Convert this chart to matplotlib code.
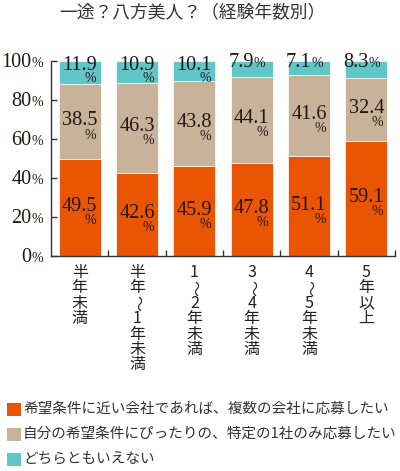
import matplotlib.pyplot as plt
from matplotlib.patches import Rectangle
import numpy as np

plt.rcParams['font.family'] = ['Noto Sans CJK JP', 'DejaVu Sans']

# --- datos ---
titulo = "一途？八方美人？（経験年数別）"
categories = ["半年未満", "半年〜1年未満", "1〜2年未満", "3〜4年未満", "4〜5年未満", "5年以上"]
series_names = [
    "希望条件に近い会社であれば、複数の会社に応募したい",
    "自分の希望条件にぴったりの、特定の1社のみ応募したい",
    "どちらともいえない",
]
multi = [49.5, 42.6, 45.9, 47.8, 51.1, 59.1]
single = [38.5, 46.3, 43.8, 44.1, 41.6, 32.4]
neither = [11.9, 10.9, 10.1, 7.9, 7.1, 8.3]
y_ticks = [0, 20, 40, 60, 80, 100]

colors = ["#EA5504", "#C8B29A", "#60C6C8"]
serif = "Liberation Serif"
txt_color = "#231815"
W, H = 400, 471

fig = plt.figure(figsize=(W / 100, H / 100), dpi=100)
ax = fig.add_axes([51 / W, 1 - 256 / H, 344 / W, 195 / H])

x = np.arange(len(categories))
series = [multi, single, neither]
bottom = np.zeros(len(categories))
for s, (vals, col) in enumerate(zip(series, colors)):
    vals = np.array(vals)
    ax.bar(x, vals, bottom=bottom, width=0.73, color=col,
           edgecolor="white", linewidth=0.5, zorder=2)
    for i, v in enumerate(vals):
        mid = bottom[i] + v / 2
        num = f"{v:.1f}"
        if s == len(series) - 1:
            if v >= 10:
                ax.annotate(num, (i, 98.7), xytext=(0, -4.6), textcoords="offset points",
                            ha="center", va="baseline", fontsize=14.6, family=serif, color=txt_color)
                ax.annotate("%", (i, 98.7), xytext=(12, -13.5), textcoords="offset points",
                            ha="right", va="baseline", fontsize=10, family=serif, color=txt_color)
            else:
                # número y % en la misma línea
                ax.annotate(num, (i, 96.9), xytext=(1.5, 0), textcoords="offset points",
                            ha="right", va="baseline", fontsize=14.6, family=serif, color=txt_color)
                ax.annotate("%", (i, 96.9), xytext=(1.5, 0), textcoords="offset points",
                            ha="left", va="baseline", fontsize=10, family=serif, color=txt_color)
        else:
            ax.annotate(num, (i, mid), xytext=(0, -2.5), textcoords="offset points",
                        ha="center", va="baseline", fontsize=14.6, family=serif, color=txt_color)
            ax.annotate("%", (i, mid), xytext=(12, -12), textcoords="offset points",
                        ha="right", va="baseline", fontsize=10, family=serif, color=txt_color)
    bottom += vals

ax.set_xlim(-0.5, len(categories) - 0.5)
ax.set_ylim(0, 100)
for side in ["top", "right"]:
    ax.spines[side].set_visible(False)
for side in ["left", "bottom"]:
    ax.spines[side].set_color("#333333")
    ax.spines[side].set_linewidth(1.0)

ax.set_yticks(y_ticks)
ax.set_yticklabels([])
ax.set_xticks(x + 0.5)
ax.set_xticklabels([])
ax.tick_params(axis="both", direction="in", length=4, width=1.0, color="#333333")

# etiquetas del eje Y (número grande, % pequeño)
for t in y_ticks:
    ax.annotate(str(t), (0, t), xycoords=("axes fraction", "data"), xytext=(-13.9, -4.3),
                textcoords="offset points", ha="right", va="baseline",
                fontsize=14.6, family=serif, color=txt_color, annotation_clip=False)
    ax.annotate("%", (0, t), xycoords=("axes fraction", "data"), xytext=(-13.9, -4.3),
                textcoords="offset points", ha="left", va="baseline",
                fontsize=10, family=serif, color=txt_color, annotation_clip=False)

# etiquetas del eje X en vertical
for i, cat in enumerate(categories):
    for j, ch in enumerate(cat):
        rot = -90 if ch == "〜" else 0
        ax.annotate(ch, (i, 0), xycoords=("data", "axes fraction"),
                    xytext=(0, -(16.5 + j * 15.4) / 1.389), textcoords="offset points",
                    ha="center", va="center", rotation=rot, rotation_mode="anchor",
                    fontsize=11.5, color="#222222", annotation_clip=False)

fig.text(192 / W, 1 - 13 / H, titulo, ha="center", va="center", fontsize=12.8, color="#333333")

# leyenda manual
for k, (name, col) in enumerate(zip(series_names, colors)):
    yc = 409 + 25 * k
    fig.patches.append(Rectangle((7 / W, 1 - (yc + 6.5) / H), 14 / W, 13 / H,
                                 transform=fig.transFigure, facecolor=col, edgecolor="none"))
    fig.text(23 / W, 1 - yc / H, name, ha="left", va="center", fontsize=10.5, color="#333333")

fig.savefig("out.png", dpi=100)
